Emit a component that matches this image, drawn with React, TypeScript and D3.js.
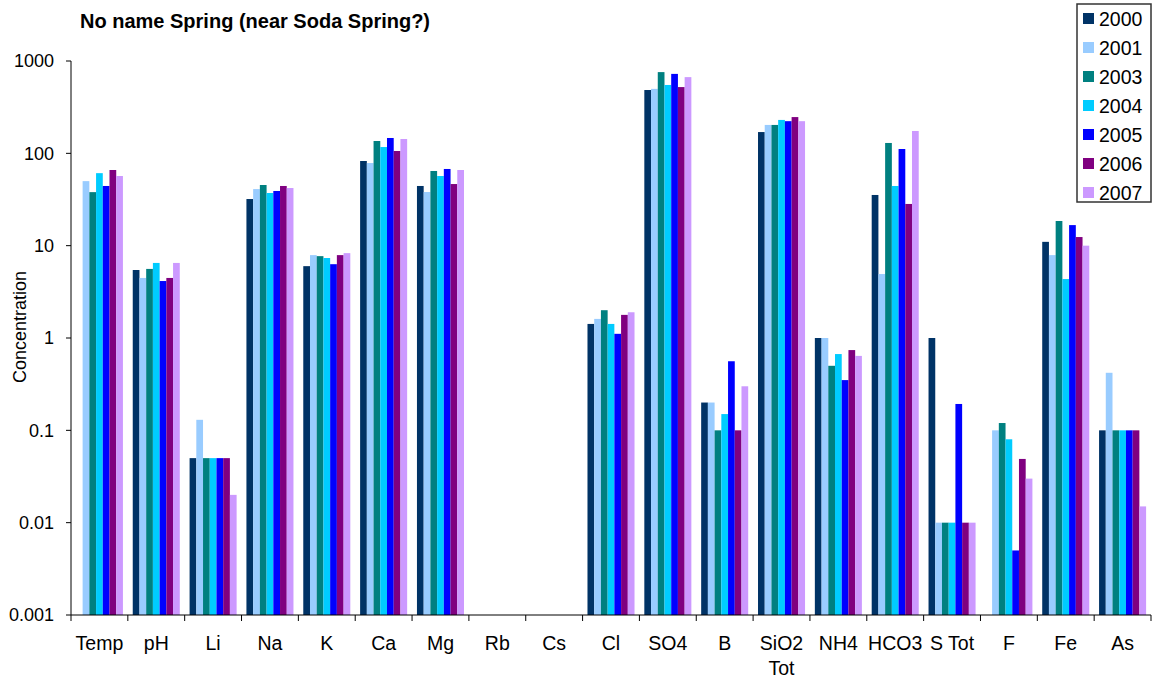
import React from "react";
import * as d3 from "d3";

const categories = ["Temp", "pH", "Li", "Na", "K", "Ca", "Mg", "Rb", "Cs", "Cl", "SO4", "B", "SiO2 Tot", "NH4", "HCO3", "S Tot", "F", "Fe", "As"];
const years = ["2000", "2001", "2003", "2004", "2005", "2006", "2007"];
const colors = ["#003366", "#99CCFF", "#008080", "#00CCFF", "#0000FF", "#800080", "#CC99FF"];

// values per category, in year order (null = no data)
const v2000 = [null, 5.45, 0.05, 32, 6.0, 82.6, 44.3, null, null, 1.42, 485, 0.2, 170, 1.0, 35.4, 1.0, null, 11, 0.1];
const v2001 = [50, 4.47, 0.13, 41, 7.9, 78.5, 38.1, null, null, 1.61, 499, 0.2, 203, 1.0, 4.93, 0.01, 0.1, 7.9, 0.42];
const v2003 = [38, 5.6, 0.05, 45.4, 7.7, 136, 64.4, null, null, 2.0, 758, 0.1, 203, 0.5, 129.5, 0.01, 0.12, 18.5, 0.1];
const v2004 = [61, 6.5, 0.05, 37.2, 7.35, 117, 56.8, null, null, 1.42, 550, 0.15, 230, 0.67, 44.3, 0.01, 0.08, 4.35, 0.1];
const v2005 = [44.3, 4.14, 0.05, 39.1, 6.3, 146.6, 67.7, null, null, 1.11, 725, 0.56, 223, 0.35, 111.4, 0.193, 0.005, 16.7, 0.1];
const v2006 = [66, 4.47, 0.05, 44.3, 7.9, 106, 46.5, null, null, 1.78, 522, 0.1, 247, 0.74, 28.3, 0.01, 0.049, 12.4, 0.1];
const v2007 = [56.8, 6.5, 0.02, 42.1, 8.3, 143, 66, null, null, 1.9, 669, 0.3, 223, 0.64, 174.6, 0.01, 0.03, 10, 0.015];
const series = [v2000, v2001, v2003, v2004, v2005, v2006, v2007];

const yTicks = [0.001, 0.01, 0.1, 1, 10, 100, 1000];
const yTickLabels = ["0.001", "0.01", "0.1", "1", "10", "100", "1000"];

const FONT = "'Liberation Sans', Arial, sans-serif";

export default function App() {
  const left = 71, right = 1151, top = 61, bottom = 615;
  const x0 = d3.scaleBand<string>().domain(categories).range([left, right]).padding(0);
  const x1 = d3.scaleBand<string>().domain(years).range([0, x0.bandwidth()]).paddingInner(0).paddingOuter(0.73);
  const y = d3.scaleLog().domain([0.001, 1000]).range([bottom, top]);

  const bars: React.ReactNode[] = [];
  categories.forEach((c, ci) => {
    years.forEach((yr, si) => {
      const v = series[si][ci];
      if (v == null) return;
      const bx = (x0(c) as number) + (x1(yr) as number);
      const by = y(v);
      bars.push(
        <rect key={c + yr} x={bx} y={by} width={x1.bandwidth()} height={bottom - by} fill={colors[si]} />
      );
    });
  });

  const boundaries = categories.map((c) => x0(c) as number).concat([right]);

  return (
    <div style={{ position: "absolute", left: 0, top: 0 }}>
      <svg width={1156} height={680} style={{ display: "block", background: "#fff" }} fontFamily={FONT}>
        <text x={80} y={28} fontSize={20} fontWeight="bold" fill="#000">No name Spring (near Soda Spring?)</text>
        {bars}
        {/* y axis */}
        <line x1={left} x2={left} y1={top} y2={bottom} stroke="#000" strokeWidth={1} />
        {yTicks.map((t, i) => (
          <g key={t}>
            <line x1={left - 5} x2={left} y1={y(t)} y2={y(t)} stroke="#000" />
            <text x={54} y={y(t)} dy="0.35em" textAnchor="end" fontSize={18} fill="#000">{yTickLabels[i]}</text>
          </g>
        ))}
        {/* x axis */}
        <line x1={left} x2={right} y1={bottom} y2={bottom} stroke="#000" strokeWidth={1} />
        {boundaries.map((bx, i) => (
          <line key={i} x1={bx} x2={bx} y1={bottom} y2={bottom + 6} stroke="#000" />
        ))}
        {categories.map((c) => {
          const cx = (x0(c) as number) + x0.bandwidth() / 2;
          const parts = c === "SiO2 Tot" ? ["SiO2", "Tot"] : [c];
          return (
            <text key={c} x={cx} y={650} textAnchor="middle" fontSize={19.5} fill="#000">
              {parts.map((p, i) => (
                <tspan key={i} x={cx} dy={i === 0 ? 0 : 25}>{p}</tspan>
              ))}
            </text>
          );
        })}
        <text transform={`translate(26,327) rotate(-90)`} textAnchor="middle" fontSize={18} fill="#000">Concentration</text>
        {/* legend */}
        <rect x={1077} y={4} width={74} height={198} fill="#fff" stroke="#333" strokeWidth={1.5} />
        {years.map((yr, i) => (
          <g key={yr}>
            <rect x={1083} y={13 + i * 29} width={11} height={11} fill={colors[i]} />
            <text x={1099} y={18.5 + i * 29} dy="0.36em" fontSize={19.5} fill="#000">{yr}</text>
          </g>
        ))}
      </svg>
    </div>
  );
}
